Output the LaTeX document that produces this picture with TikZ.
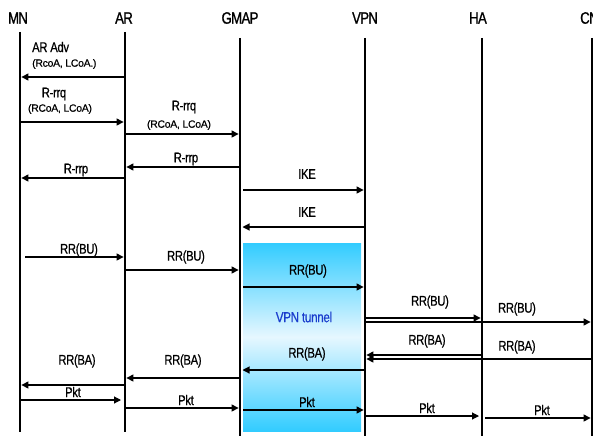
\documentclass[tikz,border=0pt]{standalone}
\usepackage{fontspec}
\setmainfont{Liberation Sans}[FakeStretch=0.8,FakeBold=0.7,LetterSpace=-2]
\newfontfamily\smallfam{Liberation Sans}[FakeBold=0.5,LetterSpace=-3]
\newfontfamily\hdrfam{Liberation Sans}[FakeStretch=0.8,FakeBold=1,LetterSpace=-4]
\usetikzlibrary{arrows.meta}
\definecolor{tcyan}{RGB}{50,204,255}
\definecolor{tlight}{RGB}{230,247,255}
\definecolor{tblue}{RGB}{25,60,205}
\begin{document}
\begin{tikzpicture}[x=1pt,y=-1pt,
  life/.style={line width=2.8pt},
  msg/.style={line width=1.1pt,-{Triangle[length=7pt,width=7pt]},shorten >=1.4pt,shorten <=1.4pt},
  hdr/.style={font=\hdrfam\fontsize{16.5}{17}\selectfont,inner sep=0},
  lbl/.style={font=\fontsize{14}{14}\selectfont,inner sep=0},
  sml/.style={font=\smallfam\fontsize{10.5}{11}\selectfont,inner sep=0}]
\useasboundingbox (0,0) rectangle (593,436);
% tunnel box
\node[inner sep=0,outer sep=0,anchor=north west,minimum width=118pt,minimum height=188pt,
  top color=tcyan,bottom color=tcyan,middle color=tlight] (tun) at (243,243) {};
\node[lbl,text=tblue,font=\fontsize{14.5}{15}\selectfont] (tunlbl) at (304,317) {VPN tunnel};
% headers
\node[hdr] (MN) at (18,18) {MN};
\node[hdr] (AR) at (124,18) {AR};
\node[hdr] (GMAP) at (240,18) {GMAP};
\node[hdr] (VPN) at (365,18) {VPN};
\node[hdr] (HA) at (478,18) {HA};
\node[hdr,anchor=west] (CN) at (580,18) {CN};
% lifelines
\coordinate (lMN) at (20,32); \coordinate (bMN) at (20,432);
\coordinate (lAR) at (125,32); \coordinate (bAR) at (125,432);
\coordinate (lGM) at (240,38); \coordinate (bGM) at (240,436);
\coordinate (lVP) at (365,38); \coordinate (bVP) at (365,436);
\coordinate (lHA) at (482,38); \coordinate (bHA) at (482,436);
\coordinate (lCN) at (592,38); \coordinate (bCN) at (592,436);
\foreach \n in {MN,AR,GM,VP,HA,CN} \draw[life] (l\n) -- (b\n);
% 1 AR Adv
\draw[msg] (lAR |- 0,77) -- (lMN |- 0,77);
\node[lbl,anchor=west] (t1) at (32,47) {AR Adv};
\node[sml,anchor=west] (t1b) at (32,64) {(RcoA, LCoA.)};
% 2 R-rrq MN->AR
\draw[msg] (lMN |- 0,122) -- (lAR |- 0,122);
\node[lbl] (t2) at (54,94) {R-rrq};
\node[sml] (t2b) at (60,109) {(RCoA, LCoA)};
% 3 R-rrq AR->GMAP
\draw[msg] (lAR |- 0,134) -- (lGM |- 0,134);
\node[lbl] (t3) at (184,107) {R-rrq};
\node[sml] (t3b) at (179,125) {(RCoA, LCoA)};
% 4 R-rrp GMAP->AR
\draw[msg] (lGM |- 0,167) -- (lAR |- 0,167);
\node[lbl] (t4) at (186,159) {R-rrp};
% 5 R-rrp AR->MN
\draw[msg] (lAR |- 0,178) -- (lMN |- 0,178);
\node[lbl] (t5) at (76,170) {R-rrp};
% 6 IKE GMAP->VPN
\draw[msg,shorten <=3pt] (lGM |- 0,190) -- (lVP |- 0,190);
\node[lbl] (t6) at (307,174) {IKE};
% 7 IKE VPN->GMAP
\draw[msg,shorten >=2.5pt] (lVP |- 0,227) -- (lGM |- 0,227);
\node[lbl] (t7) at (307,212) {IKE};
% 8 RR(BU) MN->AR
\draw[msg,shorten <=5pt] (lMN |- 0,257) -- (lAR |- 0,257);
\node[lbl] (t8) at (79,250) {RR(BU)};
% 9 RR(BU) AR->GMAP
\draw[msg] (lAR |- 0,270) -- (lGM |- 0,270);
\node[lbl] (t9) at (186,257) {RR(BU)};
% 10 RR(BU) GMAP->VPN
\draw[msg,shorten <=3pt] (lGM |- 0,287) -- (lVP |- 0,287);
\node[lbl] (t10) at (308,271) {RR(BU)};
% 11 RR(BU) VPN->HA
\draw[msg] (lVP |- 0,318) -- (lHA |- 0,318);
\node[lbl] (t11) at (430,302) {RR(BU)};
% 12 RR(BU) VPN->CN
\draw[msg] (lVP |- 0,322) -- (lCN |- 0,322);
\node[lbl] (t12) at (517,309) {RR(BU)};
% 13 RR(BA) HA->VPN
\draw[msg] (lHA |- 0,355) -- (lVP |- 0,355);
\node[lbl] (t13) at (427,341) {RR(BA)};
% 14 RR(BA) CN->VPN
\draw[msg] (lCN |- 0,359) -- (lVP |- 0,359);
\node[lbl] (t14) at (517,347) {RR(BA)};
% 15 RR(BA) VPN->GMAP
\draw[msg,shorten >=2.5pt] (lVP |- 0,370) -- (lGM |- 0,370);
\node[lbl] (t15) at (307,354) {RR(BA)};
% 16 RR(BA) GMAP->AR
\draw[msg] (lGM |- 0,378) -- (lAR |- 0,378);
\node[lbl] (t16) at (183,361) {RR(BA)};
% 17 RR(BA) AR->MN
\draw[msg] (lAR |- 0,385) -- (lMN |- 0,385);
\node[lbl] (t17) at (77,361) {RR(BA)};
% 18 Pkt MN->AR
\draw[msg,shorten >=4pt] (lMN |- 0,400) -- (lAR |- 0,400);
\node[lbl] (t18) at (73,392) {Pkt};
% 19 Pkt AR->GMAP
\draw[msg] (lAR |- 0,408) -- (lGM |- 0,408);
\node[lbl] (t19) at (186,400) {Pkt};
% 20 Pkt GMAP->VPN
\draw[msg,shorten <=3pt] (lGM |- 0,410) -- (lVP |- 0,410);
\node[lbl] (t20) at (307,402) {Pkt};
% 21 Pkt VPN->HA
\draw[msg,shorten >=3pt] (lVP |- 0,416) -- (lHA |- 0,416);
\node[lbl] (t21) at (427,408) {Pkt};
% 22 Pkt HA->CN
\draw[msg,shorten <=3pt] (lHA |- 0,418) -- (lCN |- 0,418);
\node[lbl] (t22) at (542,410) {Pkt};
\end{tikzpicture}
\end{document}
